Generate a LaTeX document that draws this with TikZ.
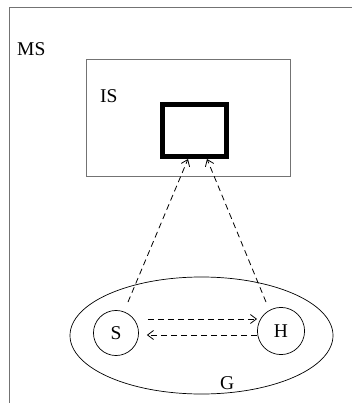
\documentclass[tikz,border=0pt]{standalone}
\usepackage{fontspec}
\setmainfont{Liberation Serif}
\usetikzlibrary{arrows.meta}
\tikzset{
	frame/.style={draw=black!55,line width=0.9pt},
	agent/.style={circle,draw,line width=0.7pt,inner sep=10pt},
	flow/.style={line width=0.8pt,dash pattern=on 6pt off 4pt,-{Straight Barb[length=6pt,width=9pt]}},
}
\begin{document}
\begin{tikzpicture}[x=1pt,y=-1pt,font=\fontsize{19.5}{22}\selectfont]
	\useasboundingbox (0,0) rectangle (352,403);
	%\draw[step=10,gray!15] (0,0) grid (352,403); %Hilfsgitter
	\draw[frame] (9,403) -- (9,7) -- (352,7);
	\draw[frame] (86,59) rectangle (290,176);
	\node[anchor=base west,inner sep=0] (MS) at (17,56) {MS}; \node[anchor=base west,inner sep=0] (IS) at (100,103) {IS};
	\node[draw,line width=5pt,minimum width=64pt,minimum height=52pt] (sq) at (194.5,130.5) {};
	
	\draw[line width=0.7pt] (201.5,335.5) ellipse [x radius=131.5,y radius=58.5];
	\node[agent] (S) at (116,333) {S}; \node[agent] (H) at (281,331) {H};
	\node[anchor=base west,inner sep=0] (G) at (220,389) {G};
	
	\coordinate (sUp) at (128,302); \coordinate (hUp) at (266,302);
	\coordinate (sqL) at (188,159); \coordinate (sqR) at (207,159);
	\draw[flow] (sUp) -- (sqL); \draw[flow] (hUp) -- (sqR);
	
	\draw[flow,shorten <=9pt] ([yshift=14pt]S.east) -- ([yshift=12pt]H.west);
	\draw[flow,shorten >=8pt] ([yshift=-4pt]H.west) -- ([yshift=-2pt]S.east);
\end{tikzpicture}
\end{document}
